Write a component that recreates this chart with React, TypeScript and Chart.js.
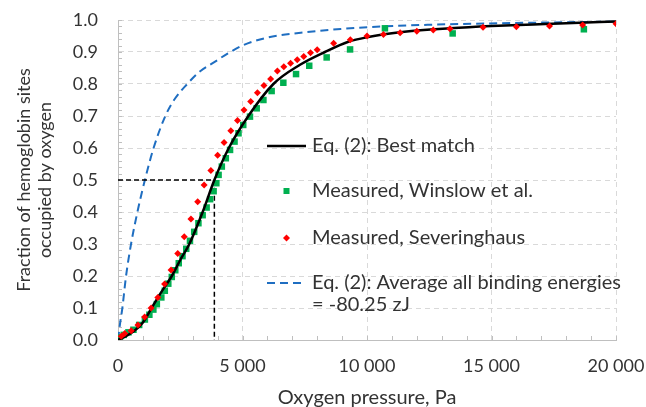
import React, { useEffect, useRef } from 'react';
import { Chart, registerables } from 'chart.js';

Chart.register(...registerables);

// Eq. (2): Best match (black solid)
const bestX = [0, 500, 1000, 1350, 1700, 2160, 2500, 2865, 3400, 3870, 4450, 5235, 6240, 7310, 8310, 9250, 10000, 11500, 13330, 15000, 16680, 18000, 20000];
const bestY = [0, 0.02, 0.055, 0.1, 0.145, 0.2, 0.25, 0.3, 0.4, 0.5, 0.6, 0.7, 0.8, 0.86, 0.9, 0.932, 0.946, 0.963, 0.974, 0.981, 0.986, 0.99, 0.995];

// Measured, Winslow et al. (green squares)
const winslowX = [80, 230, 420, 620, 850, 1080, 1260, 1420, 1560, 1740, 1880, 2020, 2160, 2300, 2440, 2590, 2740, 2890, 3060, 3230, 3400, 3560, 3700, 3840, 3950, 4040, 4170, 4330, 4500, 4680, 4840, 5030, 5300, 5570, 5840, 6170, 6640, 7150, 7680, 8380, 9320, 10720, 13440, 18710];
const winslowY = [0.008, 0.016, 0.024, 0.032, 0.047, 0.064, 0.079, 0.095, 0.112, 0.133, 0.154, 0.176, 0.197, 0.218, 0.24, 0.262, 0.285, 0.31, 0.338, 0.365, 0.39, 0.414, 0.44, 0.465, 0.49, 0.516, 0.542, 0.568, 0.594, 0.62, 0.646, 0.672, 0.698, 0.724, 0.75, 0.778, 0.804, 0.831, 0.857, 0.883, 0.908, 0.974, 0.958, 0.971];

// Measured, Severinghaus (red diamonds)
const severX = [130, 270, 530, 800, 1070, 1330, 1600, 1870, 2130, 2400, 2660, 2930, 3200, 3460, 3730, 4000, 4260, 4530, 4800, 5060, 5330, 5600, 5860, 6130, 6400, 6660, 6930, 7200, 7460, 7730, 8000, 8660, 9330, 10000, 10660, 11330, 12000, 12660, 13330, 14660, 16000, 17330, 18660, 20000];
const severY = [0.012, 0.02, 0.029, 0.047, 0.072, 0.1, 0.133, 0.175, 0.219, 0.27, 0.323, 0.378, 0.432, 0.484, 0.53, 0.577, 0.617, 0.654, 0.686, 0.719, 0.745, 0.773, 0.795, 0.816, 0.841, 0.854, 0.865, 0.876, 0.886, 0.898, 0.907, 0.927, 0.938, 0.95, 0.955, 0.96, 0.965, 0.969, 0.973, 0.977, 0.979, 0.981, 0.984, 0.988];

// Eq. (2): Average all binding energies (blue dashed)
const avgX = [0, 80, 175, 323, 524, 780, 1080, 1430, 1900, 2250, 2780, 3300, 3900, 4400, 5050, 6000, 7340, 8950, 10700, 12500, 14730, 17000, 20000];
const avgY = [0, 0.05, 0.1, 0.2, 0.3, 0.4, 0.5, 0.6, 0.7, 0.75, 0.8, 0.84, 0.87, 0.895, 0.922, 0.945, 0.96, 0.972, 0.98, 0.985, 0.989, 0.992, 0.995];

// Half-saturation guide (black dashed)
const guideX = [0, 3870, 3870];
const guideY = [0.5, 0.5, 0];

const xTicks = [0, 5000, 10000, 15000, 20000];

const legendLabels = [
  'Eq. (2): Best match',
  'Measured, Winslow et al.',
  'Measured, Severinghaus',
  'Eq. (2): Average all binding energies',
  '= -80.25 zJ',
];

const FONT = "Lato, 'Open Sans', sans-serif";
const TEXT = '#333333';
const GREEN = '#00B050';
const RED = '#FF0000';
const BLUE = '#1F6EC1';

const pts = (xs: number[], ys: number[]) => xs.map((x, i) => ({ x, y: ys[i] }));
const fmt = (v: number) => String(v).replace(/\B(?=(\d{3})+(?!\d))/g, ' ');

const extras = {
  id: 'extras',
  beforeDatasetsDraw(chart: any) {
    const { ctx, chartArea, scales } = chart;
    const xs = scales.x;
    const ys = scales.y;
    ctx.save();
    ctx.strokeStyle = '#BFBFBF';
    ctx.lineWidth = 1;
    ctx.beginPath();
    for (let v = 1000; v <= 20000; v += 1000) {
      const px = Math.round(xs.getPixelForValue(v)) + 0.5;
      ctx.moveTo(px, chartArea.bottom);
      ctx.lineTo(px, chartArea.bottom - 4);
    }
    for (let i = 1; i <= 50; i++) {
      const py = Math.round(ys.getPixelForValue(i * 0.02)) + 0.5;
      ctx.moveTo(chartArea.left, py);
      ctx.lineTo(chartArea.left + 4, py);
    }
    ctx.stroke();
    ctx.restore();
  },
  afterDraw(chart: any) {
    const { ctx, chartArea } = chart;
    const L = chartArea.left;
    const T = chartArea.top;
    const x0 = L + 149;
    const x1 = L + 188;
    const xm = (x0 + x1) / 2;
    const tx = L + 194;
    const rows = [T + 126, T + 171, T + 218, T + 263, T + 285];
    ctx.save();
    ctx.strokeStyle = '#000';
    ctx.lineWidth = 2.5;
    ctx.beginPath();
    ctx.moveTo(x0, rows[0]);
    ctx.lineTo(x1, rows[0]);
    ctx.stroke();
    ctx.fillStyle = GREEN;
    ctx.fillRect(xm - 3, rows[1] - 3, 6, 6);
    ctx.fillStyle = RED;
    ctx.beginPath();
    ctx.moveTo(xm - 3.5, rows[2]);
    ctx.lineTo(xm, rows[2] - 3.5);
    ctx.lineTo(xm + 3.5, rows[2]);
    ctx.lineTo(xm, rows[2] + 3.5);
    ctx.closePath();
    ctx.fill();
    ctx.strokeStyle = BLUE;
    ctx.lineWidth = 2;
    ctx.setLineDash([8, 5]);
    ctx.beginPath();
    ctx.moveTo(x0, rows[3]);
    ctx.lineTo(x1, rows[3]);
    ctx.stroke();
    ctx.setLineDash([]);
    ctx.fillStyle = TEXT;
    ctx.font = `20px ${FONT}`;
    ctx.textBaseline = 'middle';
    ctx.textAlign = 'left';
    legendLabels.forEach((t, i) => ctx.fillText(t, tx, rows[i]));
    ctx.restore();
  },
};

export default function App() {
  const ref = useRef<HTMLCanvasElement | null>(null);
  useEffect(() => {
    document.body.style.margin = '0';
    const canvas = ref.current!;
    const chart = new Chart(canvas, {
      type: 'scatter',
      data: {
        datasets: [
          {
            label: 'Measured, Severinghaus',
            data: pts(severX, severY),
            showLine: false,
            pointStyle: 'rectRot',
            pointRadius: 3.5,
            pointBackgroundColor: RED,
            pointBorderWidth: 0,
            pointBorderColor: RED,
            order: 1,
          },
          {
            label: 'Eq. (2): Best match',
            data: pts(bestX, bestY),
            showLine: true,
            borderColor: '#000',
            borderWidth: 2.5,
            pointRadius: 0,
            cubicInterpolationMode: 'monotone',
            order: 2,
          },
          {
            label: 'Measured, Winslow et al.',
            data: pts(winslowX, winslowY),
            showLine: false,
            pointStyle: 'rect',
            pointRadius: 4.6,
            pointBackgroundColor: GREEN,
            pointBorderWidth: 0,
            pointBorderColor: GREEN,
            order: 3,
          },
          {
            label: 'guide',
            data: pts(guideX, guideY),
            showLine: true,
            borderColor: '#000',
            borderWidth: 1.5,
            borderDash: [5, 3],
            pointRadius: 0,
            order: 4,
          },
          {
            label: 'Eq. (2): Average all binding energies',
            data: pts(avgX, avgY),
            showLine: true,
            borderColor: BLUE,
            borderWidth: 2,
            borderDash: [8, 5],
            pointRadius: 0,
            cubicInterpolationMode: 'monotone',
            order: 5,
          },
        ],
      },
      options: {
        responsive: false,
        animation: false,
        devicePixelRatio: 1,
        layout: { padding: { top: 20, right: 30, left: 0, bottom: 0 } },
        plugins: { legend: { display: false }, tooltip: { enabled: false } },
        scales: {
          x: {
            type: 'linear',
            min: 0,
            max: 20000,
            afterBuildTicks: (s: any) => {
              s.ticks = xTicks.map((v) => ({ value: v }));
            },
            afterFit: (s: any) => {
              s.height = 78;
              s.paddingLeft = 0;
              s.paddingRight = 0;
            },
            ticks: {
              callback: (v: any) => fmt(Number(v)),
              font: { family: FONT, size: 18 },
              color: TEXT,
              padding: 15,
              maxRotation: 0,
              autoSkip: false,
            },
            grid: {
              color: (c: any) => (c.tick && c.tick.value === 0 ? 'rgba(0,0,0,0)' : '#D9D9D9'),
              drawTicks: false,
              lineWidth: 1,
            },
            border: { display: true, color: '#BFBFBF', width: 1, dash: [5, 4] },
            title: {
              display: true,
              text: 'Oxygen pressure, Pa',
              font: { family: FONT, size: 20 },
              color: TEXT,
              padding: { top: 0, bottom: 8 },
            },
          },
          y: {
            type: 'linear',
            min: 0,
            max: 1,
            afterFit: (s: any) => {
              s.width = 118;
              s.paddingTop = 0;
              s.paddingBottom = 0;
            },
            ticks: {
              stepSize: 0.1,
              callback: (v: any) => Number(v).toFixed(1),
              font: { family: FONT, size: 18 },
              color: TEXT,
              padding: 20,
            },
            grid: {
              color: (c: any) => (c.tick && c.tick.value === 0 ? 'rgba(0,0,0,0)' : '#D9D9D9'),
              drawTicks: false,
              lineWidth: 1,
            },
            border: { display: true, color: '#BFBFBF', width: 1, dash: [5, 4] },
            title: {
              display: true,
              text: ['Fraction of hemoglobin sites', 'occupied by oxygen'],
              font: { family: FONT, size: 18 },
              color: TEXT,
              padding: { top: 13, bottom: 0 },
            },
          },
        },
      },
      plugins: [extras],
    });
    return () => chart.destroy();
  }, []);
  return (
    <div style={{ width: 646, height: 407, overflow: 'hidden', background: '#fff' }}>
      <canvas ref={ref} width={646} height={418} style={{ display: 'block' }} />
    </div>
  );
}
